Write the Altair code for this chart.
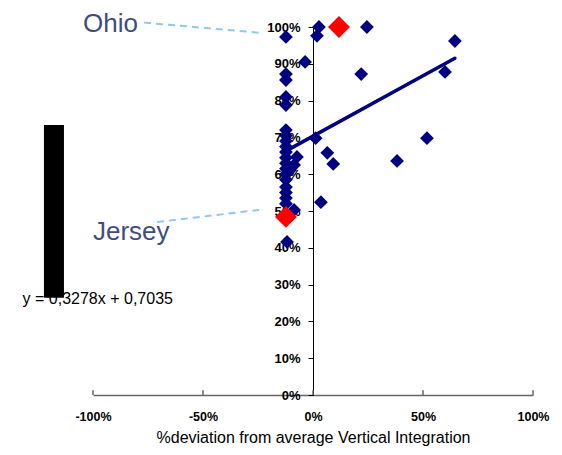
import altair as alt
import pandas as pd

FONT = "Liberation Sans"

# Navy points (x = % deviation, y = share)
pts_x = [-0.123, -0.123, -0.123, -0.123, -0.123, -0.123, -0.123, -0.123, -0.123, -0.123,
         -0.123, -0.123, -0.123, -0.123, -0.123, -0.123, -0.123, -0.123, -0.123, -0.118,
         -0.073, -0.086, -0.105, -0.086, -0.036, 0.027, 0.018, 0.012, 0.065, 0.092,
         0.036, 0.245, 0.219, 0.645, 0.600, 0.518, 0.382]
pts_y = [0.973, 0.872, 0.856, 0.810, 0.788, 0.720, 0.705, 0.690, 0.675, 0.660,
         0.645, 0.630, 0.615, 0.600, 0.585, 0.565, 0.550, 0.535, 0.520, 0.416,
         0.647, 0.625, 0.611, 0.503, 0.905, 1.000, 0.976, 0.698, 0.658, 0.628,
         0.524, 1.000, 0.872, 0.962, 0.878, 0.698, 0.636]

# Highlighted states
hi_names = ["Ohio", "Jersey"]
hi_x = [0.118, -0.123]
hi_y = [1.000, 0.484]

# Trend line endpoints (y = 0,3278x + 0,7035)
trend_x = [-0.12, 0.645]
trend_y = [0.664, 0.915]

# Annotation labels
lab_text = ["Ohio", "Jersey"]
lab_x = [-1.045, -1.0]
lab_y = [0.987, 0.421]
lead_x = [-0.768, -0.709]
lead_y = [1.012, 0.470]
lead_x2 = [-0.236, -0.245]
lead_y2 = [0.984, 0.503]

eq_text = ["y = 0,3278x + 0,7035"]
eq_x = [-1.32]
eq_y = [0.248]

box_x = [-1.223]
box_x2 = [-1.132]
box_y = [0.264]
box_y2 = [0.734]

x_ticks = [-1.0, -0.5, 0.0, 0.5, 1.0]
y_ticks = [0.0, 0.1, 0.2, 0.3, 0.4, 0.5, 0.6, 0.7, 0.8, 0.9, 1.0]

xs = alt.Scale(domain=[-1, 1], nice=False, zero=False)
ys = alt.Scale(domain=[0, 1], nice=False, zero=False)

X_AX = alt.Axis(
    values=x_ticks, format=".0%", ticks=False, grid=False, labelFlush=False,
    labelExpr="replace(datum.label, '\u2212', '-')",
    domainColor="#666666", domainWidth=1.5,
    labelFont=FONT, labelFontSize=12.5, labelFontWeight="bold", labelColor="#000000",
    labelPadding=15, title="%deviation from average Vertical Integration",
    titleFont=FONT, titleFontSize=16, titleFontWeight="normal", titleColor="#000000",
    titlePadding=7)
Y_AX = alt.Axis(
    values=y_ticks, format=".0%", grid=False, offset=-220,
    domainColor="#000000", tickColor="#000000", tickSize=5,
    labelFont=FONT, labelFontSize=13, labelFontWeight="bold", labelColor="#000000",
    labelPadding=8, title=None)


def X(f="x"):
    return alt.X(f + ":Q", scale=xs, axis=X_AX, title="%deviation from average Vertical Integration")


def Y(f="y"):
    return alt.Y(f + ":Q", scale=ys, axis=Y_AX, title=None)


pts = pd.DataFrame({"x": pts_x, "y": pts_y})
hi = pd.DataFrame({"name": hi_names, "x": hi_x, "y": hi_y})
trend = pd.DataFrame({"x": trend_x, "y": trend_y})
labs = pd.DataFrame({"t": lab_text, "x": lab_x, "y": lab_y})
leads = pd.DataFrame({"x": lead_x, "y": lead_y, "x2": lead_x2, "y2": lead_y2})
eq = pd.DataFrame({"t": eq_text, "x": eq_x, "y": eq_y})
box = pd.DataFrame({"x": box_x, "x2": box_x2, "y": box_y, "y2": box_y2})
xt = pd.DataFrame({"x": x_ticks, "y": [0.0] * 5, "y2": [0.013] * 5})

main = alt.Chart(pts).mark_point(shape="diamond", filled=True, opacity=1, color="#000080", size=190).encode(
    x=X(), y=Y())

xtick_layer = alt.Chart(xt).mark_rule(color="#666666", strokeWidth=1.5).encode(
    x=X(), y=Y(), y2="y2:Q")

trend_layer = alt.Chart(trend).mark_line(color="#000080", strokeWidth=3.5, strokeCap="round").encode(
    x=X(), y=Y())

hi_layer = alt.Chart(hi).mark_point(shape="diamond", filled=True, opacity=1, color="#FF0000", size=480).encode(
    x=X(), y=Y())

lead_layer = alt.Chart(leads).mark_rule(color="#8DCBE8", strokeWidth=2, strokeDash=[7, 5]).encode(
    x=X(), y=Y(), x2="x2:Q", y2="y2:Q")

lab_layer = alt.Chart(labs).mark_text(align="left", baseline="alphabetic", font=FONT,
                                      fontSize=26, color="#3F4D7E").encode(
    x=X(), y=Y(), text="t:N")

eq_layer = alt.Chart(eq).mark_text(align="left", baseline="alphabetic", font=FONT,
                                   fontSize=16, color="#000000").encode(
    x=X(), y=Y(), text="t:N")

box_layer = alt.Chart(box).mark_rect(color="#000000").encode(
    x=X(), x2="x2:Q", y=Y(), y2="y2:Q")

chart = alt.layer(
    xtick_layer, main, trend_layer, hi_layer, lead_layer, lab_layer, eq_layer, box_layer
).properties(
    width=440, height=368,
    background="#ffffff",
    autosize=alt.AutoSizeParams(type="none"),
    padding={"left": 85, "top": 19, "right": 21, "bottom": 52},
).configure_view(stroke=None, strokeWidth=0)

chart.save("out.html", embed_options={"renderer": "svg", "actions": False})
